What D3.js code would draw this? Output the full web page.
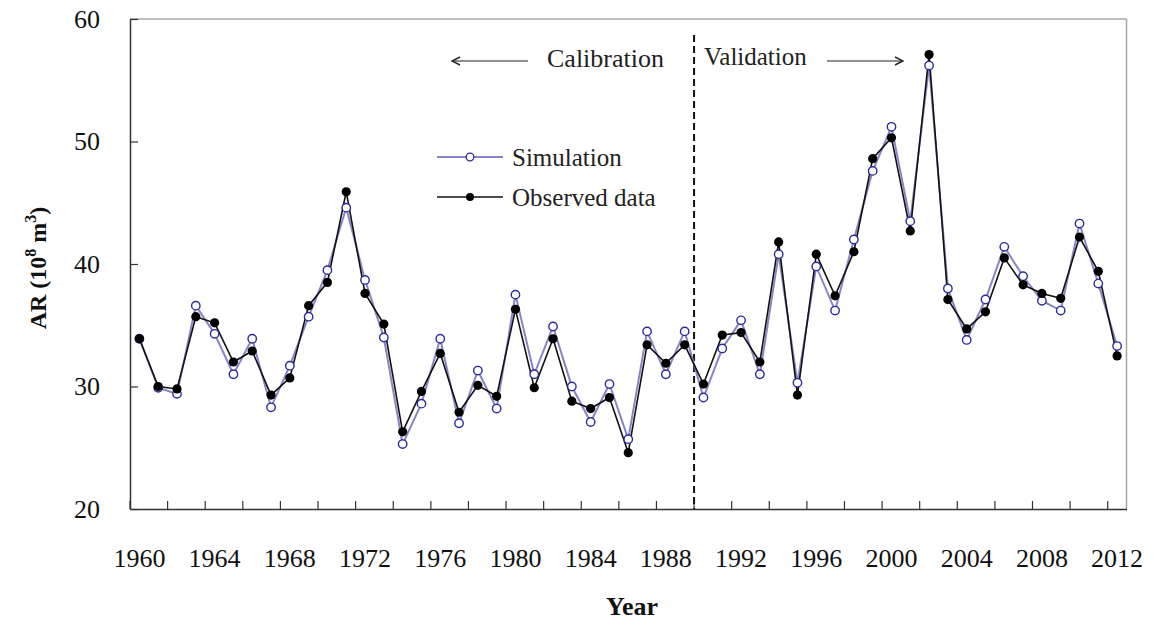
<!DOCTYPE html>
<html>
<head>
<meta charset="utf-8">
<script src="https://cdn.jsdelivr.net/npm/d3@7"></script>
<style>
  html, body { margin: 0; padding: 0; background: #fff; }
  svg { display: block; font-family: "Liberation Serif", "Times New Roman", serif; }
</style>
</head>
<body>
<svg id="chart" width="1153" height="626"></svg>
<script>
// Annual runoff (AR, 10^8 m^3), 1960–2012
const years = d3.range(1960, 2013);

const observed = [
  33.9, 30.0, 29.8, 35.7, 35.2, 32.0, 32.9, 29.3, 30.7, 36.6,
  38.5, 45.9, 37.6, 35.1, 26.3, 29.6, 32.7, 27.9, 30.1, 29.2,
  36.3, 29.9, 33.9, 28.8, 28.2, 29.1, 24.6, 33.4, 31.9, 33.4,
  30.2, 34.2, 34.4, 32.0, 41.8, 29.3, 40.8, 37.4, 41.0, 48.6,
  50.3, 42.7, 57.1, 37.1, 34.7, 36.1, 40.5, 38.3, 37.6, 37.2,
  42.2, 39.4, 32.5
];

const simulation = [
  33.9, 29.9, 29.4, 36.6, 34.3, 31.0, 33.9, 28.3, 31.7, 35.7,
  39.5, 44.6, 38.7, 34.0, 25.3, 28.6, 33.9, 27.0, 31.3, 28.2,
  37.5, 31.0, 34.9, 30.0, 27.1, 30.2, 25.7, 34.5, 31.0, 34.5,
  29.1, 33.1, 35.4, 31.0, 40.8, 30.3, 39.8, 36.2, 42.0, 47.6,
  51.2, 43.5, 56.2, 38.0, 33.8, 37.1, 41.4, 39.0, 37.0, 36.2,
  43.3, 38.4, 33.3
];

const yTicks = [20, 30, 40, 50, 60];
const xLabelYears = d3.range(1960, 2013, 4);
const xTickYears = d3.range(1960, 2013, 2);
const splitYear = 1990; // first validation year

const svg = d3.select("#chart");
const plotLeft = 130, plotRight = 1126.5, plotTop = 19, plotBottom = 509;

const x = d3.scaleBand().domain(years).range([plotLeft, plotRight]).padding(0);
const cx = d => x(d) + x.bandwidth() / 2;
const y = d3.scaleLinear().domain([20, 60]).range([plotBottom, plotTop]);

// frame: light top/right edges
svg.append("line").attr("x1", plotLeft).attr("x2", plotRight).attr("y1", plotTop).attr("y2", plotTop)
  .attr("stroke", "#a6a6a6").attr("stroke-width", 1.5);
svg.append("line").attr("x1", plotRight).attr("x2", plotRight).attr("y1", plotTop).attr("y2", plotBottom)
  .attr("stroke", "#a6a6a6").attr("stroke-width", 1.5);

// y axis
const yAxis = d3.axisLeft(y).tickValues(yTicks).tickSize(-8).tickPadding(30).tickSizeOuter(0);
const gy = svg.append("g").attr("transform", `translate(${plotLeft},0)`).call(yAxis);
gy.select(".domain").attr("stroke", "#333").attr("stroke-width", 1.5);
gy.selectAll(".tick line").attr("stroke", "#333").attr("stroke-width", 1.2);
gy.selectAll(".tick text").attr("font-size", 26).attr("fill", "#111")
  .attr("font-family", "Liberation Serif, serif");

// x axis: labels at category centres, tick marks at category boundaries
const xAxis = d3.axisBottom(x).tickValues(xLabelYears).tickSize(0).tickPadding(40).tickSizeOuter(0);
const gx = svg.append("g").attr("transform", `translate(0,${plotBottom})`).call(xAxis);
gx.select(".domain").attr("stroke", "#333").attr("stroke-width", 1.5);
gx.selectAll(".tick text").attr("font-size", 26).attr("fill", "#111")
  .attr("font-family", "Liberation Serif, serif");
svg.append("g").selectAll("line").data(xTickYears).join("line")
  .attr("x1", d => x(d)).attr("x2", d => x(d))
  .attr("y1", plotBottom).attr("y2", plotBottom - 8)
  .attr("stroke", "#333").attr("stroke-width", 1.2);

// calibration / validation split
const splitX = x(splitYear);
svg.append("line").attr("x1", splitX).attr("x2", splitX).attr("y1", 35).attr("y2", plotBottom)
  .attr("stroke", "#111").attr("stroke-width", 2).attr("stroke-dasharray", "7,4");

// arrowheads
const defs = svg.append("defs");
defs.append("marker").attr("id", "arr").attr("viewBox", "0 0 10 10")
  .attr("refX", 9).attr("refY", 5).attr("markerWidth", 10).attr("markerHeight", 10)
  .attr("markerUnits", "userSpaceOnUse").attr("orient", "auto")
  .append("path").attr("d", "M1,1 L9,5 L1,9").attr("fill", "none")
  .attr("stroke", "#222").attr("stroke-width", 1.4);

svg.append("line").attr("x1", 528).attr("x2", 452).attr("y1", 61).attr("y2", 61)
  .attr("stroke", "#222").attr("stroke-width", 1.2).attr("marker-end", "url(#arr)");
svg.append("line").attr("x1", 827).attr("x2", 903).attr("y1", 61).attr("y2", 61)
  .attr("stroke", "#222").attr("stroke-width", 1.2).attr("marker-end", "url(#arr)");
svg.append("text").attr("x", 664).attr("y", 67).attr("text-anchor", "end")
  .attr("font-size", 26).attr("fill", "#222").text("Calibration");
svg.append("text").attr("x", 704).attr("y", 65).attr("text-anchor", "start")
  .attr("font-size", 25).attr("fill", "#222").text("Validation");

// series
const simColor = "#8585c8", simMarker = "#2b2b9c";
const line = d3.line().x((d, i) => cx(years[i])).y(d => y(d));

svg.append("path").datum(simulation).attr("d", line)
  .attr("fill", "none").attr("stroke", simColor).attr("stroke-width", 2);
svg.append("path").datum(observed).attr("d", line)
  .attr("fill", "none").attr("stroke", "#111").attr("stroke-width", 1.6);

svg.append("g").selectAll("circle").data(simulation).join("circle")
  .attr("cx", (d, i) => cx(years[i])).attr("cy", d => y(d)).attr("r", 4.2)
  .attr("fill", "#fff").attr("stroke", simMarker).attr("stroke-width", 1.4);
svg.append("g").selectAll("circle").data(observed).join("circle")
  .attr("cx", (d, i) => cx(years[i])).attr("cy", d => y(d)).attr("r", 4.6)
  .attr("fill", "#000");

// legend
const legend = svg.append("g");
legend.append("line").attr("x1", 437).attr("x2", 503).attr("y1", 157).attr("y2", 157)
  .attr("stroke", simColor).attr("stroke-width", 2);
legend.append("circle").attr("cx", 470).attr("cy", 157).attr("r", 3.8)
  .attr("fill", "#fff").attr("stroke", simMarker).attr("stroke-width", 1.3);
legend.append("text").attr("x", 512).attr("y", 166).attr("font-size", 25)
  .attr("fill", "#222").text("Simulation");
legend.append("line").attr("x1", 437).attr("x2", 503).attr("y1", 197).attr("y2", 197)
  .attr("stroke", "#111").attr("stroke-width", 1.6);
legend.append("circle").attr("cx", 470).attr("cy", 197).attr("r", 4)
  .attr("fill", "#000");
legend.append("text").attr("x", 512).attr("y", 206).attr("font-size", 25)
  .attr("fill", "#222").text("Observed data");

// axis titles
svg.append("text").attr("x", 632).attr("y", 615).attr("text-anchor", "middle")
  .attr("font-size", 26).attr("font-weight", "bold").attr("fill", "#111").text("Year");

const yTitle = svg.append("text").attr("transform", "translate(46,268) rotate(-90)")
  .attr("text-anchor", "middle").attr("font-size", 24).attr("font-weight", "bold").attr("fill", "#111");
yTitle.append("tspan").text("AR (10");
yTitle.append("tspan").attr("font-size", 16).attr("dy", -10).text("8");
yTitle.append("tspan").attr("dy", 10).text(" m");
yTitle.append("tspan").attr("font-size", 16).attr("dy", -10).text("3");
yTitle.append("tspan").attr("dy", 10).text(")");
</script>
</body>
</html>
